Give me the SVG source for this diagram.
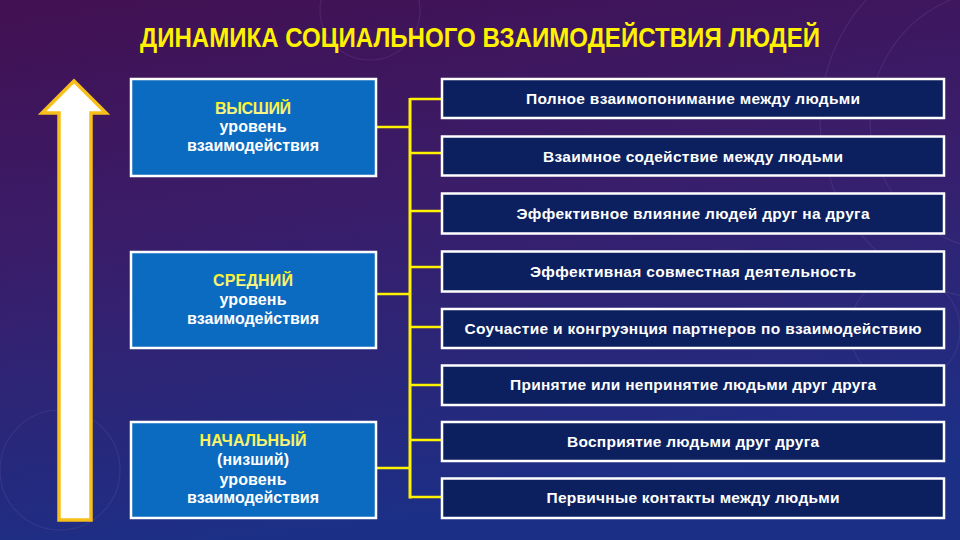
<svg xmlns="http://www.w3.org/2000/svg" width="960" height="540" viewBox="0 0 960 540">
  <defs>
    <linearGradient id="bg" x1="0" y1="0" x2="0.25" y2="1">
      <stop offset="0" stop-color="#421052"/>
      <stop offset="0.45" stop-color="#3a1d6a"/>
      <stop offset="1" stop-color="#1c2f86"/>
    </linearGradient>
    <linearGradient id="ylw" x1="0" y1="0" x2="0" y2="1">
      <stop offset="0" stop-color="#fff200"/>
      <stop offset="1" stop-color="#f4f4b0"/>
    </linearGradient>
    <style>
      .lbox { fill: #0b6bc0; stroke: #ffffff; stroke-width: 2.5; }
      .rbox { fill: #0c1f5e; stroke: #ffffff; stroke-width: 2.5; }
      .lt { font-family: "Liberation Sans", Arial, sans-serif; font-weight: bold; font-size: 16px; fill: #ffffff; text-anchor: middle; }
      .lh { fill: url(#ylw); }
      .rt { font-family: "Liberation Sans", Arial, sans-serif; font-weight: bold; font-size: 15.5px; fill: #ffffff; text-anchor: middle; }
      .title { font-family: "Liberation Sans", Arial, sans-serif; font-weight: bold; font-size: 27.5px; fill: #fff200; }
      .conn { stroke: #fff200; fill: none; }
    </style>
  </defs>
  <rect x="0" y="0" width="960" height="540" fill="url(#bg)"/>
  <g fill="none" stroke="#8a6fb0" stroke-opacity="0.18" stroke-width="1.2">
    <circle cx="1000" cy="120" r="180"/>
    <circle cx="1000" cy="120" r="130"/>
    <circle cx="905" cy="330" r="55"/>
    <circle cx="370" cy="10" r="50"/>
    <circle cx="60" cy="470" r="60"/>
  </g>

  <text class="title" x="140" y="47" textLength="680" lengthAdjust="spacingAndGlyphs">ДИНАМИКА СОЦИАЛЬНОГО ВЗАИМОДЕЙСТВИЯ ЛЮДЕЙ</text>

  <g id="arrow">
    <polygon points="74,81 106,113 91,113 91,520 59,520 59,113 42,113" fill="#ffffff" stroke="#f7bf1a" stroke-width="3.5" stroke-linejoin="miter"/>
  </g>

  <g id="connectors">
    <line class="conn" x1="410" y1="98" x2="410" y2="498.5" stroke-width="3"/>
    <line class="conn" x1="377" y1="127" x2="410" y2="127" stroke-width="2.5"/>
    <line class="conn" x1="377" y1="294" x2="410" y2="294" stroke-width="2.5"/>
    <line class="conn" x1="377" y1="468" x2="410" y2="468" stroke-width="2.5"/>
    <line class="conn" x1="410" y1="99" x2="442" y2="99" stroke-width="2.5"/>
    <line class="conn" x1="410" y1="153" x2="442" y2="153" stroke-width="2.5"/>
    <line class="conn" x1="410" y1="211" x2="442" y2="211" stroke-width="2.5"/>
    <line class="conn" x1="410" y1="267" x2="442" y2="267" stroke-width="2.5"/>
    <line class="conn" x1="410" y1="327" x2="442" y2="327" stroke-width="2.5"/>
    <line class="conn" x1="410" y1="385" x2="442" y2="385" stroke-width="2.5"/>
    <line class="conn" x1="410" y1="440" x2="442" y2="440" stroke-width="2.5"/>
    <line class="conn" x1="410" y1="497" x2="442" y2="497" stroke-width="2.5"/>
  </g>

  <g id="level-high">
    <rect class="lbox" x="131" y="79" width="245" height="97"/>
    <text class="lt lh" x="253" y="114" textLength="76">ВЫСШИЙ</text>
    <text class="lt" x="253" y="132" textLength="67">уровень</text>
    <text class="lt" x="253" y="151" textLength="132">взаимодействия</text>
  </g>
  <g id="level-mid">
    <rect class="lbox" x="131" y="252" width="245" height="96"/>
    <text class="lt lh" x="253" y="286" textLength="80">СРЕДНИЙ</text>
    <text class="lt" x="253" y="305" textLength="67">уровень</text>
    <text class="lt" x="253" y="324" textLength="132">взаимодействия</text>
  </g>
  <g id="level-low">
    <rect class="lbox" x="131" y="422" width="245" height="96"/>
    <text class="lt lh" x="253" y="446" textLength="107">НАЧАЛЬНЫЙ</text>
    <text class="lt" x="253" y="465" textLength="72">(низший)</text>
    <text class="lt" x="253" y="485" textLength="67">уровень</text>
    <text class="lt" x="253" y="503" textLength="132">взаимодействия</text>
  </g>

  <g id="r1"><rect class="rbox" x="442" y="79" width="502" height="39"/><text class="rt" x="693" y="104" textLength="334">Полное взаимопонимание между людьми</text></g>
  <g id="r2"><rect class="rbox" x="442" y="136.5" width="502" height="39"/><text class="rt" x="693" y="162" textLength="300">Взаимное содействие между людьми</text></g>
  <g id="r3"><rect class="rbox" x="442" y="193.5" width="502" height="40"/><text class="rt" x="693" y="219" textLength="353">Эффективное влияние людей друг на друга</text></g>
  <g id="r4"><rect class="rbox" x="442" y="251.5" width="502" height="40"/><text class="rt" x="693" y="277" textLength="326">Эффективная совместная деятельность</text></g>
  <g id="r5"><rect class="rbox" x="442" y="309" width="502" height="39"/><text class="rt" x="693" y="334" textLength="457">Соучастие и конгруэнция партнеров по взаимодействию</text></g>
  <g id="r6"><rect class="rbox" x="442" y="365.5" width="502" height="39.5"/><text class="rt" x="693" y="390" textLength="366">Принятие или непринятие людьми друг друга</text></g>
  <g id="r7"><rect class="rbox" x="442" y="422" width="502" height="39"/><text class="rt" x="693" y="447" textLength="252">Восприятие людьми друг друга</text></g>
  <g id="r8"><rect class="rbox" x="442" y="478.5" width="502" height="39.5"/><text class="rt" x="693" y="503" textLength="293">Первичные контакты между людьми</text></g>
</svg>
